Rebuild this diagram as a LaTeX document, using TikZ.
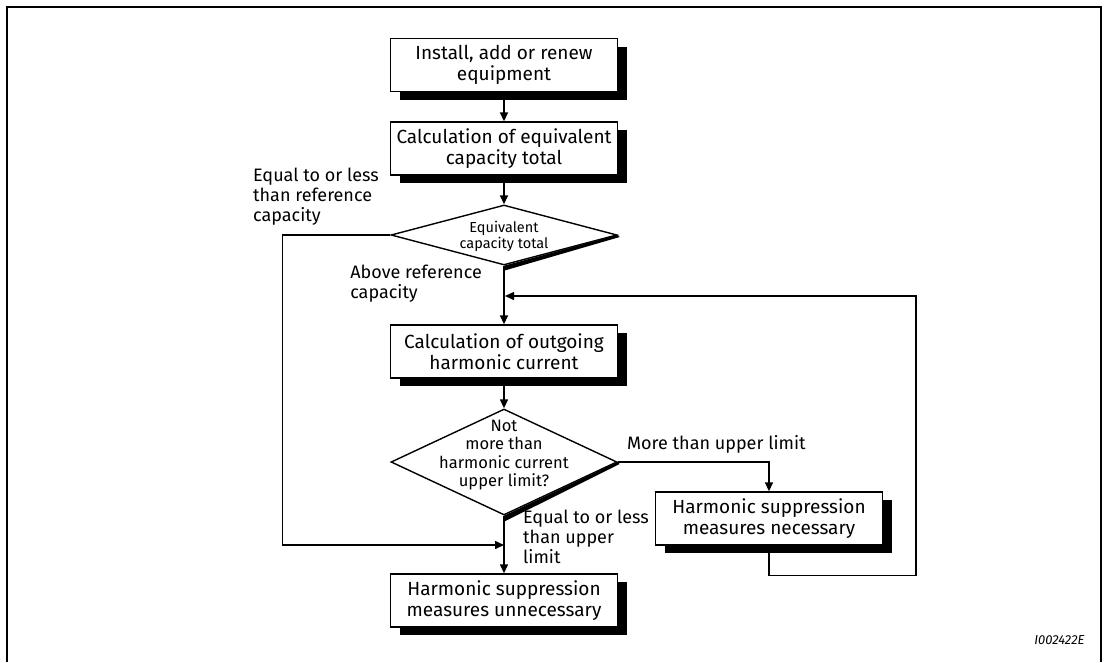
\documentclass[tikz,border=0pt]{standalone}
\usepackage{fontspec}
\setmainfont{Fira Sans}
\usetikzlibrary{positioning,shapes.geometric,shadows,arrows.meta}

\newcommand{\boxfont}{\fontsize{19}{21.5}\selectfont}
\newcommand{\lblfont}{\fontsize{18}{20}\selectfont}

\tikzset{
  stepbox/.style={draw, line width=1.4pt, fill=white, align=center,
    minimum width=227pt, minimum height=53pt, inner sep=0pt, font=\boxfont,
    drop shadow={shadow xshift=9pt, shadow yshift=-8pt, opacity=1, fill=black}},
  decision/.style={diamond, draw, line width=1.4pt, fill=white,
    inner sep=0pt, minimum width=226pt},
  dtext/.style={align=center, inner sep=0pt},
  lbl/.style={align=left, font=\lblfont, inner sep=0pt},
  flow/.style={line width=1.5pt, -{Triangle[length=9pt,width=8pt]}},
}

\begin{document}
\begin{tikzpicture}[x=1pt, y=-1pt]

    % 枠
    \useasboundingbox (0,0) rectangle (1104,662);
    \draw [line width=2pt] (7,662) -- (7,7) -- (1101,7) -- (1101,662);

    % 処理の箱
    \node [stepbox] (install) at (504,65) {Install, add or renew\\equipment};
    \node [stepbox] (calcCap) at (504,148.5) {Calculation of equivalent\\capacity total};
    \node [stepbox] (calcHarm) at (504,351.5) {Calculation of outgoing\\harmonic current};
    \node [stepbox] (supNeed) at (769,518.5) {Harmonic suppression\\measures necessary};
    \node [stepbox] (supFree) at (504,600.5) {Harmonic suppression\\measures unnecessary};

    % 判断（ひし形）
    \node [decision, minimum height=60pt] (capCheck) at (504,235) {};
    \fill (capCheck.east) -- (capCheck.south) -- ([yshift=-5pt]capCheck.south)
        -- ([xshift=2pt,yshift=-2pt]capCheck.east) -- cycle;
    \node [dtext, font=\fontsize{14.5}{16}\selectfont] (capText) at (504,236)
        {Equivalent\\capacity total};

    \node [decision, minimum height=106pt] (harmCheck) at (504,462) {};
    \fill (harmCheck.east) -- (harmCheck.south) -- ([yshift=-6pt]harmCheck.south)
        -- ([xshift=2pt,yshift=-2pt]harmCheck.east) -- cycle;
    \node [dtext, font=\fontsize{16.5}{18.5}\selectfont] (harmText) at (504,455)
        {Not\\more than\\harmonic current\\upper limit?};

    % 矢印
    \draw [flow] (install) -- (calcCap);
    \draw [flow] (calcCap) -- (capCheck);
    \draw [flow] (capCheck) -- (calcHarm);
    \draw [flow] (calcHarm) -- (harmCheck);
    \draw [flow] (harmCheck) -- (supFree);
    \draw [flow] (harmCheck.east) -| (supNeed.north);

    \coordinate (leftJoin) at (504,545);
    \draw [flow] (capCheck.west) -- ++(-108,0) |- (leftJoin);

    \coordinate (loopJoin) at (505,296);
    \draw [flow] (supNeed.south) -- ++(0,30) -| (916,296) -- (loopJoin);

    % ラベル
    \node [lbl, anchor=north west] (lowCap) at (253,168)
        {Equal to or less\\than reference\\capacity};
    \node [lbl, anchor=north east] (highCap) at (482,265)
        {Above reference\\capacity};
    \node [lbl, anchor=north west] (overLim) at (627,435) {More than upper limit};
    \node [lbl, anchor=north west] (underLim) at (523,510)
        {Equal to or less\\than upper\\limit};

    \node [font=\itshape\fontsize{13}{15}\selectfont, anchor=east] (figId)
        at (1088,640) {I002422E};
    %
\end{tikzpicture}
\end{document}
